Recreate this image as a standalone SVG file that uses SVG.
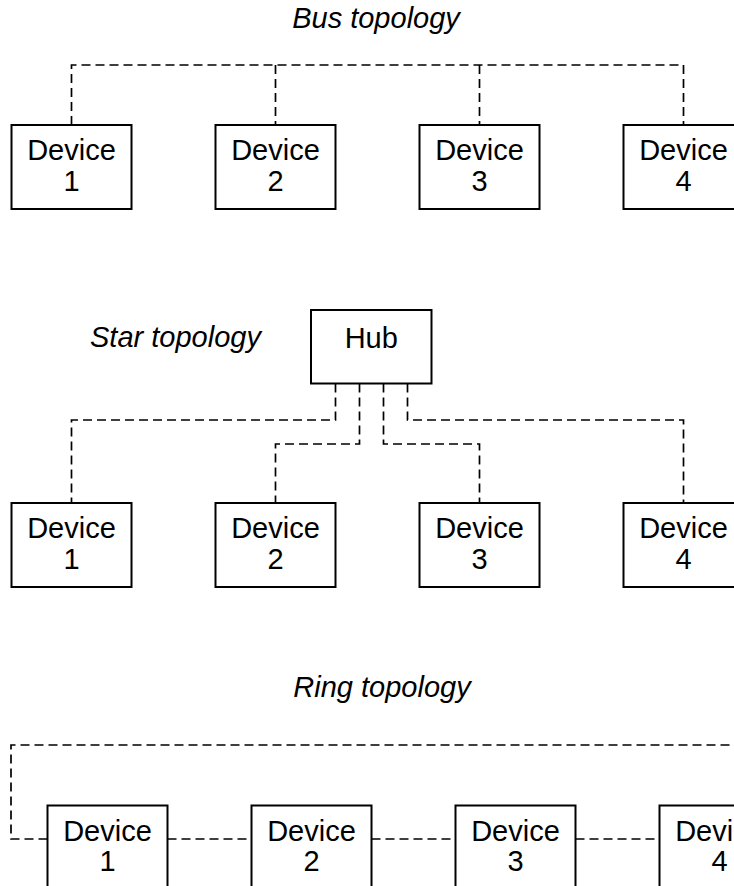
<svg xmlns="http://www.w3.org/2000/svg" width="734" height="886" viewBox="0 0 734 886">
<style>
.box{fill:#fff;stroke:#000;stroke-width:2}
.t{font-family:"Liberation Sans",Arial,sans-serif;font-size:29px;fill:#000;text-anchor:middle}
.title{font-family:"Liberation Sans",Arial,sans-serif;font-size:29px;font-style:italic;fill:#000}
.link{fill:none;stroke:#000;stroke-width:1.7;stroke-dasharray:9,5}
</style>
<rect width="734" height="886" fill="#fff"/>
<g id="connectors">
<path class="link" d="M71.5 125 V65 H683.5 V125"/>
<path class="link" d="M275.5 65 V125"/>
<path class="link" d="M479.5 65 V125"/>
<path class="link" d="M335.5 383.5 V420 H71.5 V503"/>
<path class="link" d="M359.5 383.5 V444 H275.5 V503"/>
<path class="link" d="M383.5 383.5 V444 H479.5 V503"/>
<path class="link" d="M407.5 383.5 V420 H683.5 V503"/>
<path class="link" d="M47.5 839 H11 V745 H760"/>
<path class="link" d="M167.5 839 H251.5"/>
<path class="link" d="M371.5 839 H455.5"/>
<path class="link" d="M575.5 839 H659.5"/>
</g>
<text class="title" x="376" y="27.5" text-anchor="middle">Bus topology</text>
<text class="title" x="90" y="347">Star topology</text>
<text class="title" x="382" y="696.5" text-anchor="middle">Ring topology</text>
<g id="bus-d1"><rect class="box" x="11.5" y="125" width="120" height="84"/><text class="t" x="71.5" y="160">Device</text><text class="t" x="71.5" y="190.5">1</text></g>
<g id="bus-d2"><rect class="box" x="215.5" y="125" width="120" height="84"/><text class="t" x="275.5" y="160">Device</text><text class="t" x="275.5" y="190.5">2</text></g>
<g id="bus-d3"><rect class="box" x="419.5" y="125" width="120" height="84"/><text class="t" x="479.5" y="160">Device</text><text class="t" x="479.5" y="190.5">3</text></g>
<g id="bus-d4"><rect class="box" x="623.5" y="125" width="120" height="84"/><text class="t" x="683.5" y="160">Device</text><text class="t" x="683.5" y="190.5">4</text></g>
<g id="hub"><rect class="box" x="311" y="310" width="120.5" height="73.5"/><text class="t" x="371.25" y="347.5">Hub</text></g>
<g id="star-d1"><rect class="box" x="11.5" y="503" width="120" height="84"/><text class="t" x="71.5" y="538">Device</text><text class="t" x="71.5" y="568.5">1</text></g>
<g id="star-d2"><rect class="box" x="215.5" y="503" width="120" height="84"/><text class="t" x="275.5" y="538">Device</text><text class="t" x="275.5" y="568.5">2</text></g>
<g id="star-d3"><rect class="box" x="419.5" y="503" width="120" height="84"/><text class="t" x="479.5" y="538">Device</text><text class="t" x="479.5" y="568.5">3</text></g>
<g id="star-d4"><rect class="box" x="623.5" y="503" width="120" height="84"/><text class="t" x="683.5" y="538">Device</text><text class="t" x="683.5" y="568.5">4</text></g>
<g id="ring-d1"><rect class="box" x="47.5" y="805.5" width="120" height="84"/><text class="t" x="107.5" y="840.5">Device</text><text class="t" x="107.5" y="871">1</text></g>
<g id="ring-d2"><rect class="box" x="251.5" y="805.5" width="120" height="84"/><text class="t" x="311.5" y="840.5">Device</text><text class="t" x="311.5" y="871">2</text></g>
<g id="ring-d3"><rect class="box" x="455.5" y="805.5" width="120" height="84"/><text class="t" x="515.5" y="840.5">Device</text><text class="t" x="515.5" y="871">3</text></g>
<g id="ring-d4"><rect class="box" x="659.5" y="805.5" width="120" height="84"/><text class="t" x="719.5" y="840.5">Device</text><text class="t" x="719.5" y="871">4</text></g>
</svg>
